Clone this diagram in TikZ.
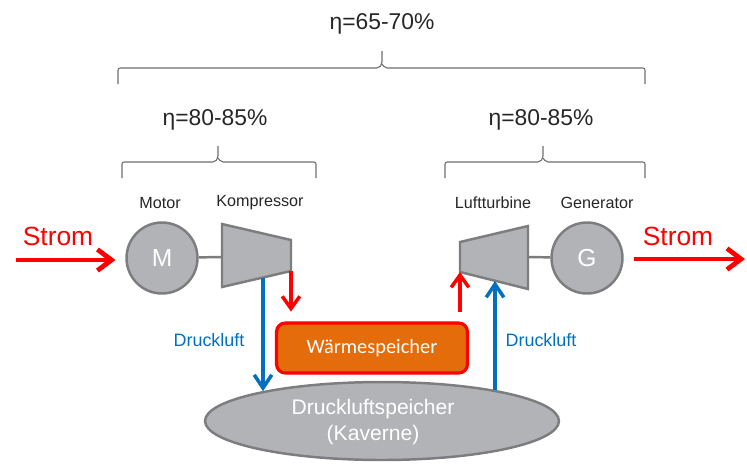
\documentclass[tikz,border=0pt]{standalone}
\usepackage{fontspec}
\setmainfont{Liberation Sans}
\newfontfamily\calibri{Carlito}
\usetikzlibrary{arrows.meta,shapes.geometric}

\definecolor{bodygray}{RGB}{178,179,182}
\definecolor{framegray}{RGB}{125,125,127}
\definecolor{bracegray}{RGB}{110,110,110}
\definecolor{labelgray}{RGB}{38,38,38}
\definecolor{airblue}{RGB}{0,112,192}
\definecolor{heatred}{RGB}{255,0,0}
\definecolor{storeorange}{RGB}{228,108,10}

\tikzset{
	machine/.style={circle,draw=framegray,fill=bodygray,line width=1.4pt,minimum size=1.42cm,inner sep=0pt,text=white,font=\fontsize{14}{16}\selectfont},
	housing/.style={draw=framegray,fill=bodygray,line width=1.4pt,line join=miter},
	shaft/.style={draw=framegray,line width=1.4pt},
	caption/.style={text=labelgray,font=\fontsize{9.2}{11}\selectfont},
	eta/.style={text=labelgray,font=\fontsize{13}{15}\selectfont},
	effbrace/.style={draw=bracegray,line width=0.6pt,rounded corners=1.2pt},
	strom/.style={draw=heatred,line width=2.7pt,-{Straight Barb[length=8pt,width=12pt]}},
	heat/.style={draw=heatred,line width=2pt,-{Straight Barb[length=7pt,width=10pt]}},
	air/.style={draw=airblue,line width=2pt,-{Straight Barb[length=7.5pt,width=10pt]}},
}

\begin{document}
\begin{tikzpicture}[x=0.02cm,y=-0.02cm]
	\useasboundingbox (0,0) rectangle (747,464);

	% efficiencies
	\node[eta] (etaall) at (382,24) {η=65-70\%};
	\node[eta] (etain) at (215,120) {η=80-85\%};
	\node[eta] (etaout) at (541,120) {η=80-85\%};
	\draw[effbrace] (118,84) -- (118,68) -- (379,68) -- (382,64) -- (382,51);
	\draw[effbrace] (382,64) -- (385,68) -- (645,68) -- (645,84);
	\draw[effbrace] (122,178) -- (122,162) -- (215,162) -- (218,158) -- (218,146);
	\draw[effbrace] (218,158) -- (221,162) -- (316,162) -- (316,178);
	\draw[effbrace] (445,178) -- (445,162) -- (540,162) -- (543,158) -- (543,146);
	\draw[effbrace] (543,158) -- (546,162) -- (645,162) -- (645,178);

	% charging side
	\node[machine] (motor) at (162,258) {M};
	\coordinate (k1) at (222,224);
	\coordinate (k2) at (291,240);
	\coordinate (k3) at (291,271);
	\coordinate (k4) at (222,287);
	\coordinate (kshaft) at (222,257);
	\coordinate (kout) at (263,278);
	\draw[housing] (k1) -- (k2) -- (k3) -- (k4) -- cycle;
	\draw[shaft] (motor) -- (kshaft);
	\node[caption] (motorlbl) at (160,203) {Motor};
	\node[caption] (komplbl) at (260,203) {Kompressor};

	% discharging side
	\node[machine] (gen) at (587,258) {G};
	\coordinate (t1) at (460,242);
	\coordinate (t2) at (528,226);
	\coordinate (t3) at (528,289);
	\coordinate (t4) at (460,272);
	\coordinate (tshaft) at (528,257);
	\coordinate (tin) at (495,281);
	\draw[housing] (t1) -- (t2) -- (t3) -- (t4) -- cycle;
	\draw[shaft] (tshaft) -- (gen);
	\node[caption] (turblbl) at (493,203) {Luftturbine};
	\node[caption] (genlbl) at (597,203) {Generator};

	% storages
	\node[draw=heatred,fill=storeorange,line width=1.8pt,rounded corners=5pt,minimum width=3.82cm,minimum height=1cm,text=white,font=\calibri\fontsize{11.6}{14}\selectfont] (wsp) at (372,348) {Wärmespeicher};
	\node[ellipse,draw=framegray,fill=bodygray,line width=1.4pt,minimum width=7.08cm,minimum height=1.56cm,inner sep=0pt] (cavern) at (382,421) {};
	\node[text=white,align=center,font=\fontsize{12}{15.3}\selectfont] (cavernlbl) at (373,422) {Druckluftspeicher\\(Kaverne)};

	% power in and out
	\coordinate (netin) at (16,260);
	\coordinate (netout) at (745,259);
	\node[text=heatred,font=\fontsize{15}{17}\selectfont] (stromin) at (58,236) {Strom};
	\node[text=heatred,font=\fontsize{15}{17}\selectfont] (stromout) at (678,236) {Strom};
	\draw[strom,shorten >=5.6pt] (netin) -- (motor.west |- netin);
	\draw[strom,shorten <=5.6pt] (gen.east |- netout) -- (netout);

	% air and heat
	\draw[heat,shorten >=5.6pt] (k3) -- (k3 |- wsp.north);
	\draw[heat,shorten <=5.6pt] (t4 |- wsp.north) -- (t4);
	\draw[air] (kout) -- (kout |- cavern.166);
	\draw[air] (tin |- cavern.15) -- (tin);
	\node[text=airblue,font=\fontsize{10.2}{12}\selectfont] (airin) at (209,340) {Druckluft};
	\node[text=airblue,font=\fontsize{10.2}{12}\selectfont] (airout) at (541,340) {Druckluft};
\end{tikzpicture}
\end{document}
